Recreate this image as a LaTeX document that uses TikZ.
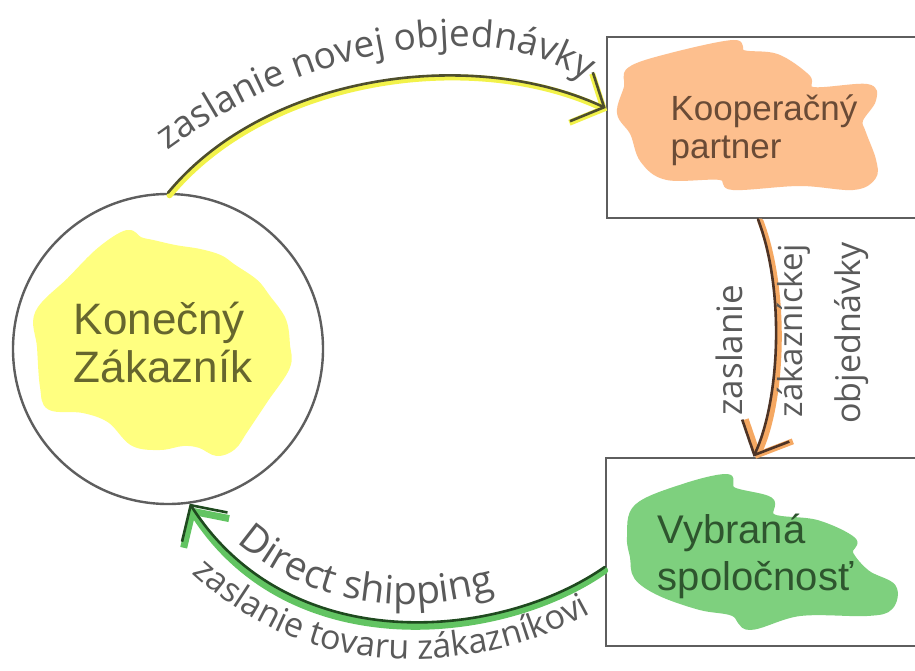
\documentclass[tikz,border=0pt]{standalone}
\usepackage{fontspec}
\setmainfont{Liberation Sans}
\newfontfamily\handfont{Open Sans}
\usetikzlibrary{arrows.meta,decorations.text,calc}

\definecolor{outline}{HTML}{5E5E5E}
\definecolor{blobY}{HTML}{FFFF80}
\definecolor{blobO}{HTML}{FDBF8E}
\definecolor{blobG}{HTML}{7ED07E}
\definecolor{txtY}{HTML}{66662E}
\definecolor{txtO}{HTML}{6A4B36}
\definecolor{txtG}{HTML}{2E552E}
\definecolor{handgray}{HTML}{5A5A5A}
\definecolor{lineY}{HTML}{4E4E2C}
\definecolor{haloY}{HTML}{F2F24A}
\definecolor{lineO}{HTML}{4E3426}
\definecolor{haloO}{HTML}{F5A862}
\definecolor{lineG}{HTML}{1F4A1F}
\definecolor{haloG}{HTML}{62C462}

\tikzset{
  box/.style={draw=outline, line width=2.6pt, rectangle, inner sep=0pt},
  ring/.style={draw=outline, line width=2.4pt, circle, inner sep=0pt, minimum size=310pt},
  blob/.style={line width=6pt, line join=round},
  conn/.style={line width=2.6pt, line cap=round},
  halo/.style={line width=6pt, line cap=round},
  handlab/.style={text=handgray, inner sep=0pt},
  tipY/.style={-{Straight Barb[length=25pt,width=54pt]}},
  tipO/.style={-{Straight Barb[length=27pt,width=52pt]}},
  tipG/.style={-{Straight Barb[length=26pt,width=54pt]}},
}

\begin{document}
\begin{tikzpicture}[x=1pt,y=-1pt]
\fill[white] (0,0) rectangle (915,671);
\useasboundingbox (0,0) rectangle (915,671);

% blobs
\filldraw[blob, draw=blobY, fill=blobY] plot[smooth cycle, tension=0.6] coordinates {
 (38,313) (70,280) (100,250) (127,233) (140,240) (153,243) (175,248) (200,252) (220,258)
 (233,267) (255,282) (267,297) (283,320) (287,345) (287,367) (265,400) (245,430) (233,447)
 (217,453) (200,445) (183,443) (160,447) (133,443) (110,420) (83,410) (50,407) (43,387) (40,347)};
\filldraw[blob, draw=blobO, fill=blobO] plot[smooth cycle, tension=0.6] coordinates {
 (630,70) (667,57) (733,43) (743,53) (777,57) (807,77) (813,90) (867,87) (873,100) (860,120)
 (863,133) (873,160) (873,177) (853,187) (800,183) (733,187) (720,177) (667,177) (643,160)
 (633,133) (620,113) (627,87)};
\filldraw[blob, draw=blobG, fill=blobG] plot[smooth cycle, tension=0.6] coordinates {
 (637,507) (683,487) (727,477) (733,490) (770,500) (773,517) (817,523) (853,540) (850,553)
 (867,573) (893,587) (890,607) (867,613) (800,613) (750,627) (733,613) (700,607) (660,593)
 (637,577) (633,557) (630,537)};

% main nodes
\node[ring] (cust) at (168,349) {};
\node[box, minimum width=310pt, minimum height=181pt] (coop) at (762,127.5) {};
\node[box, minimum width=311pt, minimum height=188pt] (sel) at (761.5,552) {};

\node[align=left, text=txtY, font=\fontsize{44}{48}\selectfont, inner sep=0pt] (custtxt) at (163,342.5) {Konečný\\Zákazník};
\node[align=left, text=txtO, font=\fontsize{35}{38}\selectfont, inner sep=0pt] (cooptxt) at (764,130) {Kooperačný\\partner};
\node[align=left, text=txtG, font=\fontsize{40}{47}\selectfont, inner sep=0pt] (seltxt) at (755.5,556) {Vybraná\\spoločnosť};

% connector 1: customer -> cooperation partner
\draw[halo, draw=haloY, transform canvas={shift={(1.5pt,-2.5pt)}}, tipY]
  (cust.north) .. controls (265,75) and (470,45) .. ([yshift=19.5pt]coop.west);
\draw[conn, draw=lineY, tipY]
  (cust.north) .. controls (265,75) and (470,45) .. ([yshift=19.5pt]coop.west);

% connector 2: cooperation partner -> selected company
\draw[halo, draw=haloO, transform canvas={shift={(2.5pt,-2pt)}}, tipO]
  ([xshift=-4pt]coop.south) .. controls (785,290) and (780,400) .. ([xshift=-8pt]sel.north);
\draw[conn, draw=lineO, tipO]
  ([xshift=-4pt]coop.south) .. controls (785,290) and (780,400) .. ([xshift=-8pt]sel.north);

% connector 3: selected company -> customer
\draw[halo, line width=7pt, draw=haloG, transform canvas={shift={(0pt,-3.5pt)}}, tipG]
  ([yshift=-15pt]sel.west) .. controls (500,640) and (290,660) .. (cust.-82);
\draw[conn, draw=lineG, tipG]
  ([yshift=-15pt]sel.west) .. controls (500,640) and (290,660) .. (cust.-82);

% handwritten labels
\path[decorate, decoration={text along path, text align=center, text color=handgray,
  text={|\handfont\fontsize{37}{37}\selectfont|zaslanie novej objednávky}}]
  (155,160) .. controls (240,95) and (330,55) .. (440,47) .. controls (510,42) and (560,62) .. (600,88);

\path[decorate, decoration={text along path, text align=center, text color=handgray,
  text={|\handfont\fontsize{39}{39}\selectfont|Direct shipping}}]
  (222,528) .. controls (268,576) and (330,602) .. (400,604) .. controls (450,605) and (490,593) .. (515,586);

\path[decorate, decoration={text along path, text align=center, text color=handgray,
  text={|\handfont\fontsize{34}{34}\selectfont|zaslanie tovaru zákazníkovi}}]
  (180,562) .. controls (240,622) and (320,662) .. (420,659) .. controls (500,657) and (560,632) .. (605,605);

\node[handlab, rotate=90, font=\handfont\fontsize{35}{35}\selectfont] (lab1) at (729,350) {zaslanie};
\node[handlab, rotate=90, font=\handfont\fontsize{33}{33}\selectfont] (lab2) at (794,331) {zákazníckej};
\node[handlab, rotate=90, font=\handfont\fontsize{34}{34}\selectfont] (lab3) at (852,333) {objednávky};
\end{tikzpicture}
\end{document}
